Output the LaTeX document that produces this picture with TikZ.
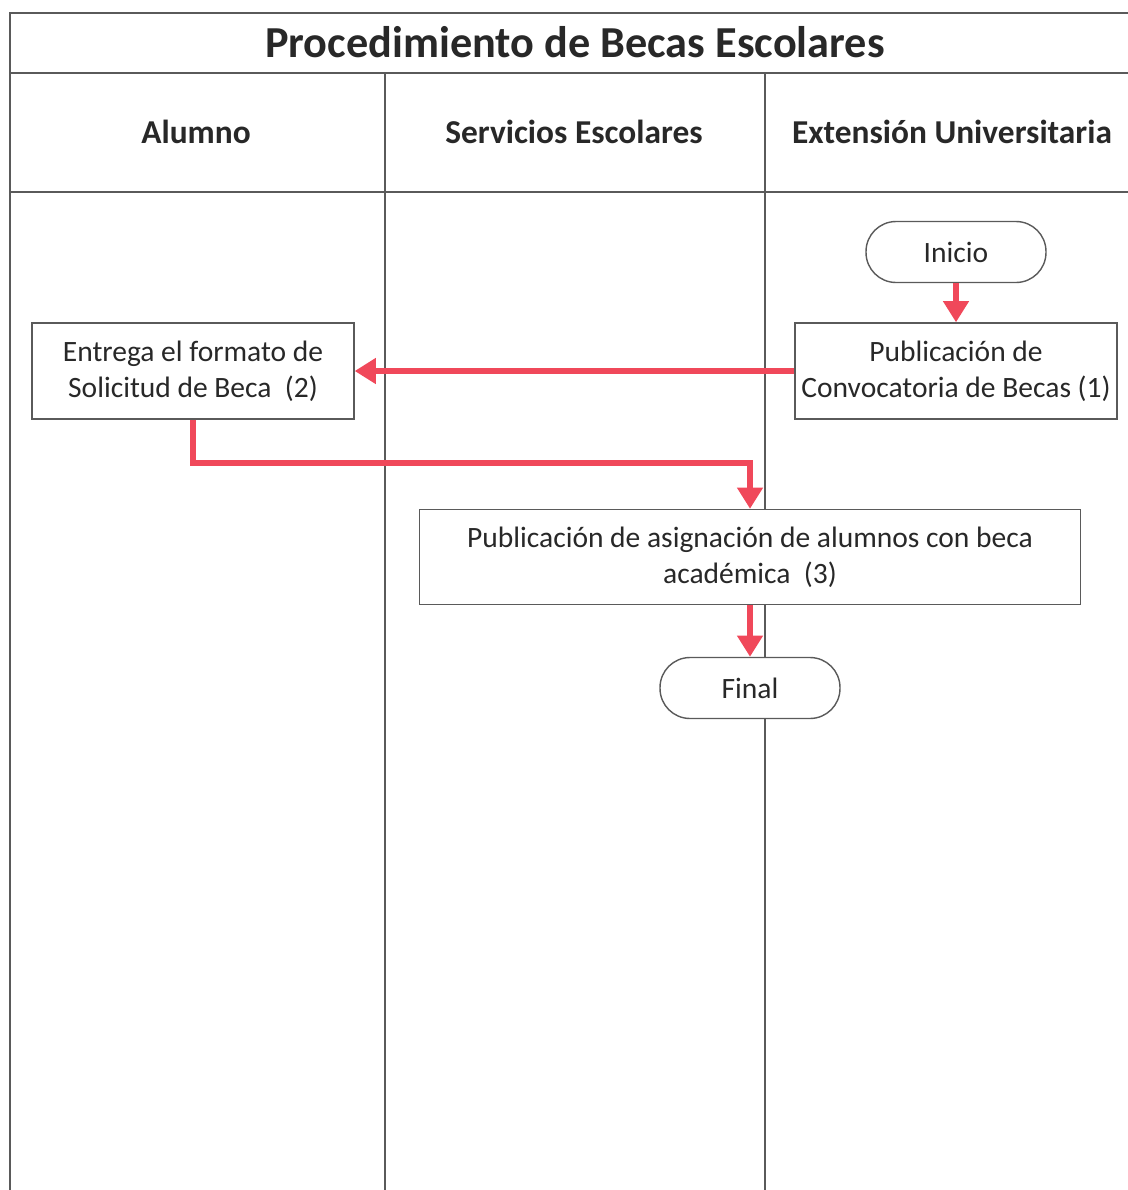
\documentclass[tikz,border=0pt]{standalone}
\usepackage{fontspec}
\setmainfont{Carlito}
\usepackage{tikz}
\usetikzlibrary{arrows.meta}
\definecolor{flujo}{RGB}{240,72,90}
\definecolor{linea}{RGB}{90,90,90}
\definecolor{texto}{RGB}{40,40,40}
\tikzset{
  carril/.style={draw=linea,line width=0.9pt},
  paso/.style={draw=linea,line width=0.8pt,fill=white,text=texto,align=center,
    font=\fontsize{16.8}{20.5}\selectfont,inner sep=0pt},
  terminal/.style={paso,minimum width=3.6cm,minimum height=1.22cm,rounded corners=0.6cm},
  flecha/.style={draw=flujo,line width=3.1pt,-{Triangle[length=12pt,width=14pt]}}
}
\begin{document}
\begin{tikzpicture}[x=0.02cm,y=-0.02cm]
        \useasboundingbox (0,0) rectangle (1128,1190);

        % draw the table
        \draw[carril] (1128,13) -- (10,13) -- (10,1190);
        \draw[carril] (10,73) -- (1128,73);
        \draw[carril] (10,192) -- (1128,192);
        \foreach \x in {385,765} {
                % lane separators
                \draw[carril] (\x,73) -- (\x,1190);
        }

        % title and lane headers
        \node[text=texto,font=\fontsize{25.2}{28}\selectfont\bfseries] (titulo) at (575,42) {Procedimiento de Becas Escolares};
        \foreach \x/\xtext/\name in {
            196/Alumno/alumno,
            574/Servicios Escolares/servicios,
            952/Extensión Universitaria/extension}
                \node[text=texto,font=\fontsize{19}{22}\selectfont\bfseries] (\name) at (\x,132) {\xtext};

        % the steps
        \node[terminal] (inicio) at (956,252) {Inicio};
        \node[paso,minimum width=6.44cm,minimum height=1.92cm] (convocatoria) at (956,371) {Publicación de\\Convocatoria de Becas (1)};
        \node[paso,minimum width=6.44cm,minimum height=1.92cm] (solicitud) at (193,371) {Entrega el formato de\\Solicitud de Beca\ \ (2)};
        \node[paso,minimum width=13.22cm,minimum height=1.9cm] (asignacion) at (750,557) {Publicación de asignación de alumnos con beca\\académica\ \ (3)};
        \node[terminal] (final) at (750,688) {Final};

        % draw the flow
        \draw[flecha] (inicio) -- (convocatoria);
        \draw[flecha] (convocatoria) -- (solicitud);
        \draw[flecha] (solicitud.south) |- (750,463) -- (asignacion.north);
        \draw[flecha] (asignacion) -- (final);
\end{tikzpicture}
\end{document}
